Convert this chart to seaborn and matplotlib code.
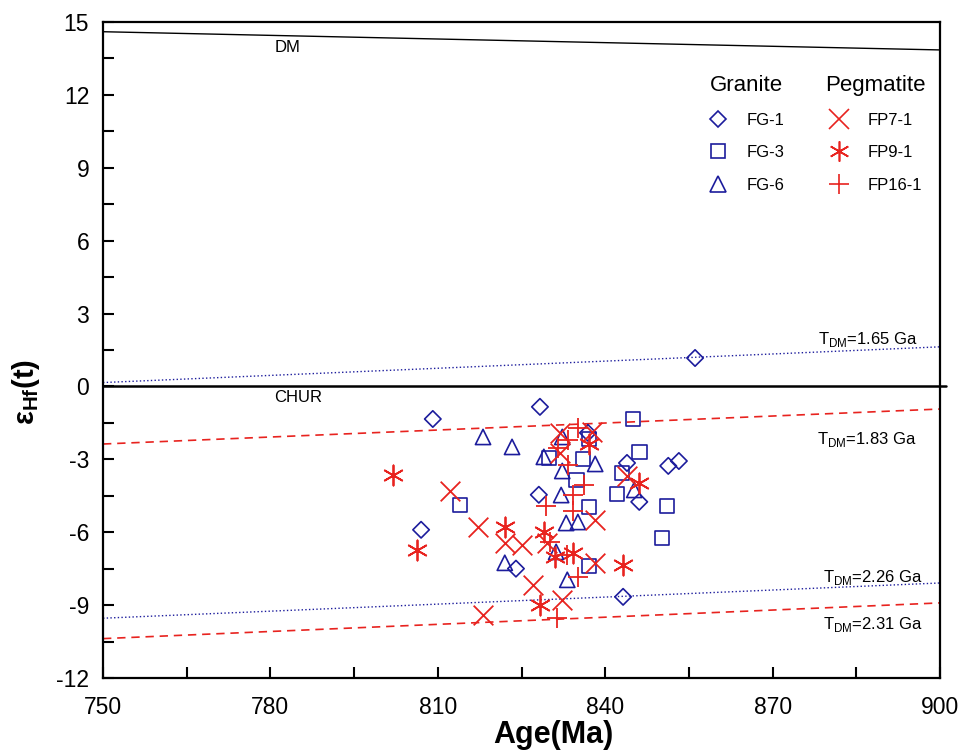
import numpy as np
import pandas as pd
import matplotlib
matplotlib.use("Agg")
import matplotlib.pyplot as plt
import seaborn as sns
from matplotlib.lines import Line2D
from matplotlib.ticker import MultipleLocator

# --- Data ---
fg1_age = [856.1, 809.1, 828.3, 807.0, 824.0, 828.1, 843.2, 843.9, 851.3, 853.2, 846.1, 836.9]
fg1_eps = [1.17, -1.34, -0.84, -5.90, -7.50, -4.46, -8.66, -3.15, -3.27, -3.07, -4.75, -1.91]

fg3_age = [814.0, 829.9, 836.0, 834.9, 837.1, 837.1, 837.1, 845.0, 846.1, 843.0, 842.1, 851.1, 850.2]
fg3_eps = [-4.88, -2.94, -2.98, -3.85, -2.16, -4.96, -7.39, -1.34, -2.70, -3.56, -4.42, -4.92, -6.23]

fg6_age = [818.1, 823.3, 829.0, 832.3, 832.3, 838.2, 832.1, 833.0, 835.1, 831.2, 822.0, 833.2, 845.2]
fg6_eps = [-2.08, -2.49, -2.90, -2.08, -3.48, -3.19, -4.47, -5.62, -5.58, -6.81, -7.26, -7.96, -4.26]

fp7_age = [812.2, 817.2, 822.0, 825.1, 829.6, 818.1, 827.1, 832.3, 831.9, 831.9, 837.6, 838.2, 838.2, 843.9]
fp7_eps = [-4.30, -5.78, -6.44, -6.52, -6.44, -9.40, -8.17, -8.79, -1.91, -2.74, -1.87, -5.49, -7.26, -3.68]

fp9_age = [802.0, 806.3, 822.0, 829.0, 831.0, 834.2, 843.2, 828.3, 837.1, 846.1]
fp9_eps = [-3.64, -6.73, -5.78, -5.99, -7.02, -6.85, -7.35, -9.00, -2.37, -3.97]

fp16_age = [835.1, 833.3, 831.5, 833.3, 836.2, 834.2, 834.2, 829.4, 830.1, 833.2, 835.1, 831.4]
fp16_eps = [-1.71, -2.20, -2.53, -3.23, -4.05, -4.47, -5.12, -4.92, -6.40, -6.93, -7.84, -9.53]

# reference evolution lines (age ends, epsilon ends)
line_age = [750, 900]
chur_age = [750, 901]
dm_eps = [14.6, 13.85]
chur_eps = [0, 0]
tdm165_eps = [0.16, 1.63]
tdm183_eps = [-2.37, -0.93]
tdm226_eps = [-9.54, -8.09]
tdm231_eps = [-10.38, -8.91]

BLUE = "#1c1c9c"
RED = "#e8231f"

sns.set_style("ticks")
plt.rcParams["font.family"] = ["Liberation Sans", "DejaVu Sans"]
plt.rcParams["mathtext.fontset"] = "custom"
plt.rcParams["mathtext.rm"] = "Liberation Sans"
plt.rcParams["mathtext.bf"] = "Liberation Sans:bold"
plt.rcParams["axes.unicode_minus"] = False
for key in ["text.color", "axes.labelcolor", "xtick.color", "ytick.color"]:
    plt.rcParams[key] = "black"

fig = plt.figure(figsize=(9.71, 7.56), dpi=100)
ax = fig.add_axes([0.1061, 0.1032, 0.862, 0.8677])

# --- reference lines ---
sns.lineplot(x=line_age, y=dm_eps, color="black", lw=1.0, ax=ax)
sns.lineplot(x=chur_age, y=chur_eps, color="black", lw=1.8, ax=ax, clip_on=False)
sns.lineplot(x=line_age, y=tdm165_eps, color=BLUE, lw=1.0, ls=":", ax=ax)
sns.lineplot(x=line_age, y=tdm226_eps, color=BLUE, lw=1.0, ls=":", ax=ax)
sns.lineplot(x=line_age, y=tdm183_eps, color=RED, lw=1.2, ax=ax, dashes=(5, 3.5))
sns.lineplot(x=line_age, y=tdm231_eps, color=RED, lw=1.2, ax=ax, dashes=(5, 3.5))

# --- samples ---
open_kw = dict(facecolor="none", edgecolor=BLUE, linewidth=1.2, ax=ax, zorder=3)
sns.scatterplot(x=fg1_age, y=fg1_eps, marker="D", s=70, **open_kw)
sns.scatterplot(x=fg3_age, y=fg3_eps, marker="s", s=110, **open_kw)
sns.scatterplot(x=fg6_age, y=fg6_eps, marker="^", s=120, **open_kw)
sns.scatterplot(x=fp7_age, y=fp7_eps, marker="x", s=200, color=RED, linewidth=1.3, ax=ax, zorder=4)
sns.scatterplot(x=fp9_age, y=fp9_eps, marker=(6, 2, 0), s=210, color=RED, linewidth=1.3, ax=ax, zorder=4)
sns.scatterplot(x=fp16_age, y=fp16_eps, marker="+", s=200, color=RED, linewidth=1.3, ax=ax, zorder=4)

# --- annotations ---
ax.text(783.0, 13.93, "DM", fontsize=12, ha="center", va="center")
ax.text(785.0, -0.47, "CHUR", fontsize=12, ha="center", va="center")
ax.text(878.1, 1.95, r"T$_{\rm DM}$=1.65 Ga", fontsize=12, ha="left", va="center")
ax.text(878.0, -2.2, r"T$_{\rm DM}$=1.83 Ga", fontsize=12, ha="left", va="center")
ax.text(879.0, -7.88, r"T$_{\rm DM}$=2.26 Ga", fontsize=12, ha="left", va="center")
ax.text(879.0, -9.81, r"T$_{\rm DM}$=2.31 Ga", fontsize=12, ha="left", va="center")

# --- axes ---
ax.set_xlim(750, 900)
ax.set_ylim(-12, 15)
ax.set_xticks([750, 780, 810, 840, 870, 900])
ax.set_yticks([-12, -9, -6, -3, 0, 3, 6, 9, 12, 15])
ax.xaxis.set_minor_locator(MultipleLocator(15))
ax.yaxis.set_minor_locator(MultipleLocator(1.5))
ax.tick_params(which="both", direction="in", length=8, width=1.5, labelsize=16.5)
ax.tick_params(axis="x", which="both", pad=13)
ax.tick_params(axis="y", which="both", pad=10)
for sp in ax.spines.values():
    sp.set_visible(True)
    sp.set_linewidth(1.6)
    sp.set_color("black")

ax.set_xlabel("Age(Ma)", fontsize=22, fontweight="bold")
ax.set_ylabel(r"ε$_{\mathbf{Hf}}$(t)", fontsize=21, fontweight="bold")
ax.xaxis.set_label_coords(0.538, -0.064)
ax.yaxis.set_label_coords(-0.073, 0.436)

# --- legends ---
def handle(marker, color, ms):
    return Line2D([], [], marker=marker, ls="none", mfc="none", mec=color, ms=ms, mew=1.2)

granite = [handle("D", BLUE, 8.5), handle("s", BLUE, 10.5), handle("^", BLUE, 11)]
pegmatite = [handle("x", RED, 14), handle((6, 2, 0), RED, 14.5), handle("+", RED, 14)]
leg_kw = dict(frameon=False, fontsize=12, title_fontsize=16, labelspacing=1.04,
              handletextpad=1.08, handlelength=1.2, borderaxespad=0, loc="upper left")
leg1 = ax.legend(granite, ["FG-1", "FG-3", "FG-6"], title="Granite",
                 bbox_to_anchor=(0.715, 0.93), **leg_kw)
ax.add_artist(leg1)
ax.legend(pegmatite, ["FP7-1", "FP9-1", "FP16-1"], title="Pegmatite",
          bbox_to_anchor=(0.855, 0.93), **leg_kw)

fig.savefig("out.png", dpi=100)
